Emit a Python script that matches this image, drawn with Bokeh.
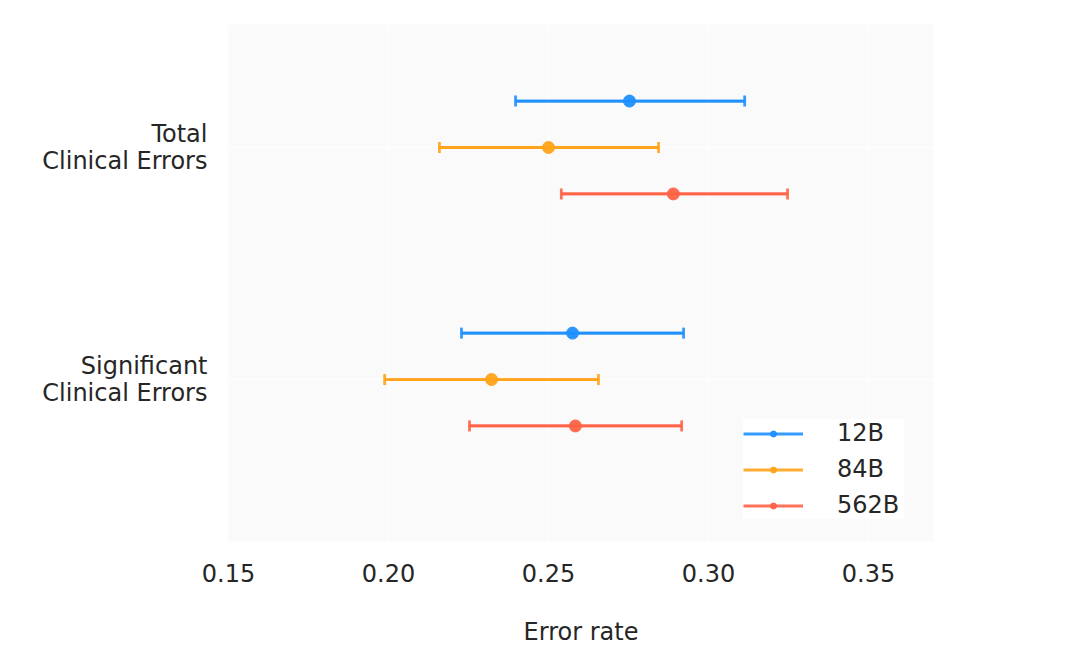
from bokeh.plotting import figure
from bokeh.models import ColumnDataSource, Legend, LegendItem, Whisker, FixedTicker, TeeHead
from bokeh.embed import file_html
from bokeh.resources import INLINE

categories = ["Total\nClinical Errors", "Significant\nClinical Errors"]
models = ["12B", "84B", "562B"]
colors = ["#1E90FF", "#FFA31A", "#FF6347"]
# values per model: [Total, Significant]
means = {"12B": [0.2753, 0.2575], "84B": [0.2500, 0.2322], "562B": [0.2890, 0.2584]}
lowers = {"12B": [0.2397, 0.2228], "84B": [0.2159, 0.1988], "562B": [0.2540, 0.2253]}
uppers = {"12B": [0.3113, 0.2922], "84B": [0.2844, 0.2656], "562B": [0.3247, 0.2916]}
x_ticks = [0.15, 0.20, 0.25, 0.30, 0.35]
x_tick_labels = ["0.15", "0.20", "0.25", "0.30", "0.35"]
cat_pos = [1, 0]
offsets = [0.2, 0.0, -0.2]

p = figure(width=1058, height=648, output_backend="svg", toolbar_location=None,
           x_range=(0.15, 0.3703), y_range=(-0.698, 1.53),
           min_border_left=228, min_border_right=125, min_border_top=24, min_border_bottom=107)
p.background_fill_color = "#fafafa"
p.border_fill_color = "white"
p.outline_line_color = None

p.xaxis.ticker = FixedTicker(ticks=x_ticks)
p.xaxis.major_label_overrides = {x_ticks[i]: x_tick_labels[i] for i in range(len(x_ticks))}
p.yaxis.ticker = FixedTicker(ticks=cat_pos)
p.yaxis.major_label_overrides = {cat_pos[i]: categories[i] for i in range(len(categories))}
for ax in (p.xaxis[0], p.yaxis[0]):
    ax.axis_line_color = None
    ax.major_tick_line_color = None
    ax.minor_tick_line_color = None
    ax.major_tick_out = 0
    ax.major_tick_in = 0
    ax.minor_tick_out = 0
    ax.major_label_text_font = "DejaVu Sans"
    ax.major_label_text_font_size = "24px"
    ax.major_label_text_color = "#262626"
p.xaxis.major_label_standoff = 22
p.yaxis.major_label_standoff = 21
p.yaxis.major_label_text_align = "right"
p.yaxis.major_label_text_line_height = 0.95
p.xaxis.axis_label = "Error rate"
p.xaxis.axis_label_text_font = "DejaVu Sans"
p.xaxis.axis_label_text_font_size = "24px"
p.xaxis.axis_label_text_font_style = "normal"
p.xaxis.axis_label_text_color = "#262626"
p.xaxis.axis_label_standoff = 33

p.xgrid.grid_line_color = "white"
p.xgrid.grid_line_width = 1.5
p.ygrid.grid_line_color = "white"
p.ygrid.grid_line_width = 1.5

items = []
for m, c, off in zip(models, colors, offsets):
    ys = [cp + off for cp in cat_pos]
    src = ColumnDataSource(dict(y=ys, x=means[m], lo=lowers[m], hi=uppers[m]))
    seg = p.segment(x0="lo", x1="hi", y0="y", y1="y", source=src, line_color=c,
                    line_width=2.8, line_alpha=0.9)
    w = Whisker(source=src, base="y", lower="lo", upper="hi", dimension="width",
                line_color=c, line_width=2.8, line_alpha=0.9,
                lower_head=TeeHead(size=11, line_color=c, line_width=2.8, line_alpha=0.9),
                upper_head=TeeHead(size=11, line_color=c, line_width=2.8, line_alpha=0.9))
    p.add_layout(w)
    dot = p.scatter(x="x", y="y", source=src, size=12, color=c, alpha=0.95)
    items.append(LegendItem(label=m, renderers=[seg, dot]))

legend = Legend(items=items, location=(515, 22), glyph_width=60, glyph_height=15,
                label_height=15, label_width=67, spacing=8, padding=18, label_standoff=34,
                label_text_font="DejaVu Sans", label_text_font_size="24px",
                label_text_color="#262626", background_fill_color="white",
                background_fill_alpha=0.9, border_line_color=None, margin=0)
p.add_layout(legend)

open("out.html", "w").write(file_html(p, INLINE))
